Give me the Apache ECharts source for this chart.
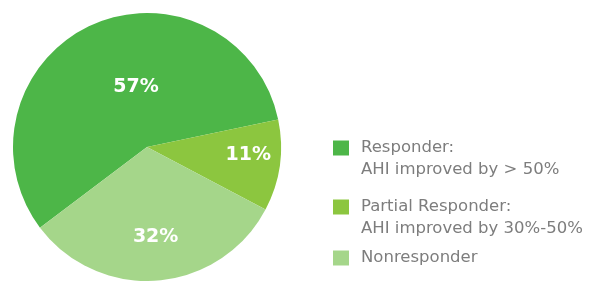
<!DOCTYPE html>
<html>
<head>
<meta charset="utf-8">
<script src="https://cdn.jsdelivr.net/npm/echarts@6/dist/echarts.min.js"></script>
<style>
  html, body { margin: 0; padding: 0; background: #fff; }
  #chart { width: 601px; height: 281px; }
</style>
</head>
<body>
<div id="chart"></div>
<script>
// 数据
var names = ['Responder', 'Partial Responder', 'Nonresponder'];
var legendLines = [
    ['Responder:', 'AHI improved by > 50%'],
    ['Partial Responder:', 'AHI improved by 30%-50%'],
    ['Nonresponder']
];
var values = [57, 11, 32];
var colors = ['#4db648', '#8cc63f', '#a5d68a'];

var myChart = echarts.init(document.getElementById('chart'));

// 每个图例单独放一个，便于上下对齐
var legendTops = [115, 174, 247];
var legends = names.map(function(n, i) {
    var lines = legendLines[i];
    // 两行的图例前面加一个空行，让图标对齐第一行
    var text = lines.length > 1 ? ' \n' + lines.join('\n') : lines[0];
    return {
        data: [n],
        orient: 'vertical',
        left: 333,
        top: legendTops[i],
        padding: 0,
        itemWidth: 16,
        itemHeight: 15,
        icon: 'rect',
        selectedMode: false,
        formatter: function() { return text; },
        textStyle: {
            color: '#7d7d7d',
            fontFamily: 'DejaVu Sans',
            fontSize: 16.5,
            lineHeight: 22,
            padding: [0, 0, 0, 7]
        }
    };
});

// 标签位置微调
var labelOffsets = [[18, 4], [32, -2], [3, 20]];

var option = {
    color: colors,
    animation: false,
    legend: legends,
    series: [{
        type: 'pie',
        center: [147, 147],
        radius: 134,
        startAngle: 217,
        clockwise: true,
        label: {
            position: 'inside',
            formatter: '{c}%',
            color: '#fff',
            fontFamily: 'DejaVu Sans',
            fontWeight: 'bold',
            fontSize: 19
        },
        labelLine: { show: false },
        emphasis: { disabled: true },
        data: names.map(function(n, i) {
            return { name: n, value: values[i], label: { offset: labelOffsets[i] } };
        })
    }]
};
myChart.setOption(option);
</script>
</body>
</html>
